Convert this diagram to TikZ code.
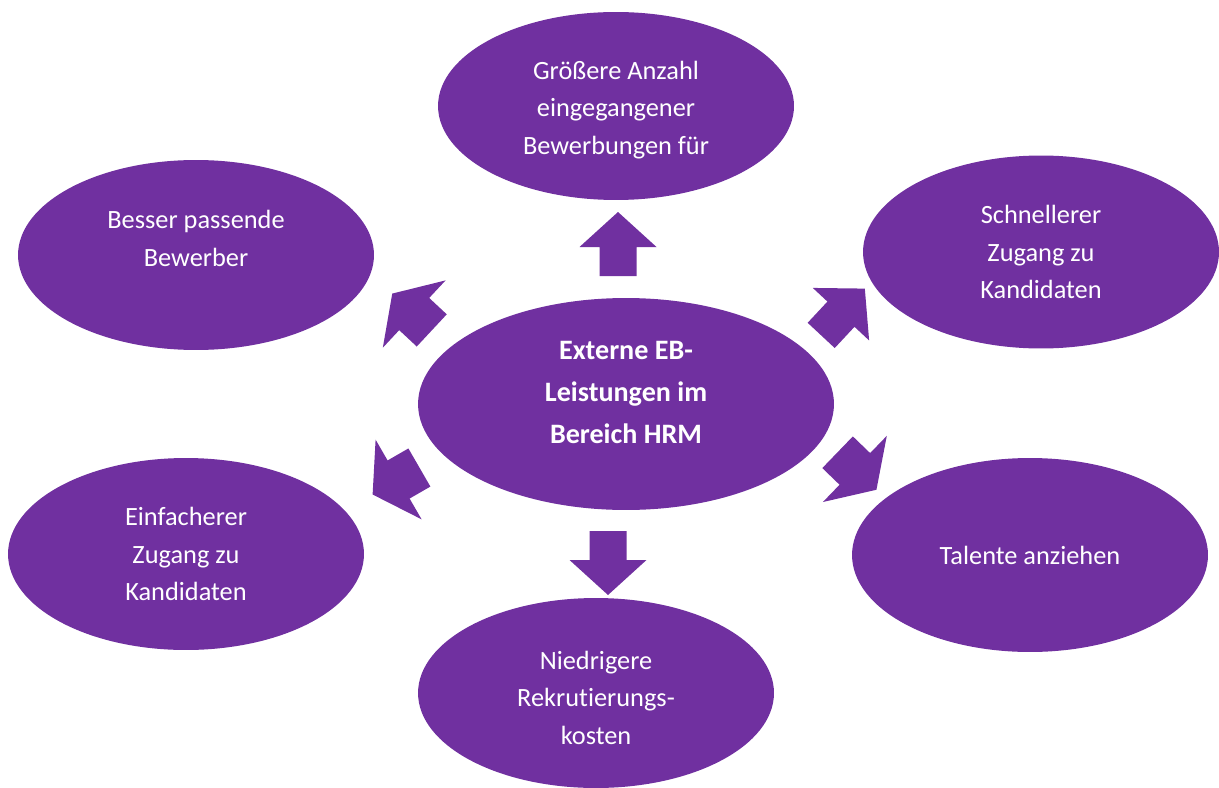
\documentclass[tikz,border=0pt]{standalone}
\usepackage{fontspec}
\setmainfont{Carlito}[Ligatures=CommonOff]
\usepackage{xcolor}
\usepackage{tikz}
\usetikzlibrary{shapes}
\definecolor{hrmpurple}{RGB}{112, 48, 160}

\begin{document}
\begin{tikzpicture}[x=0.02cm, y=-0.02cm,
    bubble/.style={ellipse, fill=hrmpurple, text=white, align=center, inner sep=0pt,
        minimum width=7.12cm, minimum height=3.8cm, font=\fontsize{15}{21.3}\selectfont},
    bigarrow/.pic={\fill[hrmpurple] (-32,-18.5) -- (-3,-18.5) -- (-3,-38.5) -- (32,0)
        -- (-3,38.5) -- (-3,18.5) -- (-32,18.5) -- cycle;},
    flatarrow/.pic={\fill[hrmpurple] (-27,-22) -- (-3,-22) -- (-3,-46) -- (27,0)
        -- (-3,46) -- (-3,22) -- (-27,22) -- cycle;}]
    \useasboundingbox (0,0) rectangle (1219,787);
    % Centre
    \node[bubble, minimum width=8.32cm, minimum height=4.24cm, text depth=13.6pt,
        font=\bfseries\fontsize{16}{23.9}\selectfont] (hrm) at (626,404)
        {Externe EB-\\Leistungen im\\Bereich HRM};
    % Top
    \node[bubble, minimum height=3.76cm, text height=57.5pt] (anzahl) at (616,106)
        {Größere Anzahl\\eingegangener\\Bewerbungen für};
    % Top left
    \node[bubble, text depth=19pt] (passend) at (196,255) {Besser passende\\Bewerber};
    % Top right
    \node[bubble, minimum height=3.86cm] (schneller) at (1041,252)
        {Schnellerer\\Zugang zu\\Kandidaten};
    % Bottom left
    \node[bubble, minimum height=3.84cm] (einfacher) at (186,554)
        {Einfacherer\\Zugang zu\\Kandidaten};
    % Bottom right
    \node[bubble, minimum height=3.88cm] (talente) at (1030,555) {Talente anziehen};
    % Bottom
    \node[bubble, text height=58.5pt] (kosten) at (596,693) {Niedrigere\\Rekrutierungs-\\kosten};
    % Arrows
    \pic[rotate=90] at (618,244) {bigarrow};
    \pic[rotate=-90] at (608,563) {bigarrow};
    \pic[rotate=47] at (843,312) {bigarrow};
    \pic[rotate=137] at (412,312) {flatarrow};
    \pic[rotate=210] at (396,481) {flatarrow};
    \pic[rotate=-44] at (857,471) {flatarrow};
\end{tikzpicture}
\end{document}
